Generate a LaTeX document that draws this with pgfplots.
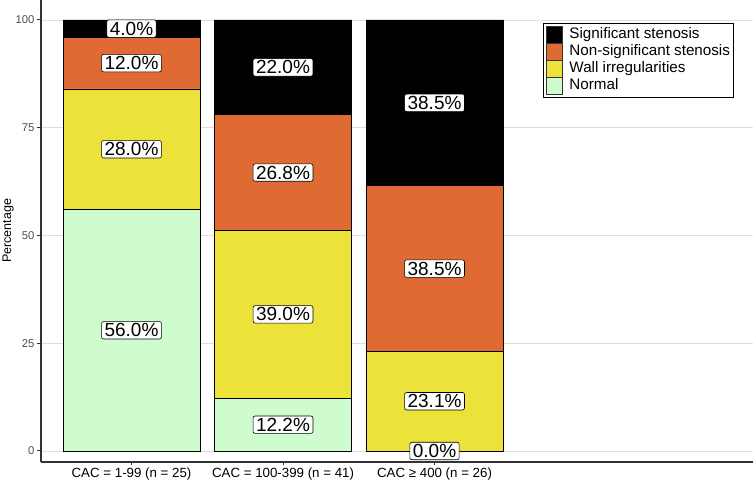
\documentclass[border=0pt]{standalone}
\usepackage{pgfplots}
\pgfplotsset{compat=1.18}
\usepackage{fontspec}
\setmainfont{Liberation Sans}
\definecolor{sigc}{RGB}{0,0,0}
\definecolor{nonsig}{RGB}{224,106,52}
\definecolor{wallc}{RGB}{237,226,58}
\definecolor{normc}{RGB}{207,252,207}
\definecolor{axgray}{RGB}{51,51,51}
\definecolor{tickgray}{RGB}{77,77,77}
\definecolor{gridc}{RGB}{222,222,222}
\pgfplotsset{
  common/.style={at={(0pt,0pt)}, anchor=south west, scale only axis,
    width=712pt, height=462pt,
    xmin=0.4026, xmax=5.102, ymin=-2.552, ymax=104.64},
}
\begin{document}
\begin{tikzpicture}
\path[use as bounding box] (-41pt,-20pt) rectangle (712pt,462pt);
\begin{axis}[common,
  ybar stacked, bar width=0.904,
  axis lines*=left,
  axis line style={axgray, line width=1.1pt},
  xtick={1,2,3},
  xticklabels={CAC = 1-99 (n = 25), CAC = 100-399 (n = 41), CAC ≥ 400 (n = 26)},
  ytick={0,25,50,75,100},
  ymajorgrids, xmajorgrids=false,
  major grid style={gridc, line width=0.7pt},
  tick align=outside, major tick length=3.5pt,
  tick style={axgray, line width=1pt},
  /pgf/number format/assume math mode=true,
  yticklabel style={font=\fontsize{11.3}{12}\selectfont, text=tickgray, xshift=0.5pt},
  xticklabel style={font=\fontsize{13.3}{14}\selectfont, text=black, yshift=1.5pt},
  ylabel={Percentage},
  every axis y label/.style={at={(axis description cs:-0.0463,0.5)}, rotate=90, anchor=center,
    font=\fontsize{12.5}{14}\selectfont},
  reverse legend,
  legend style={at={(0.7046,0.9509)}, anchor=north west, draw=black, line width=0.8pt,
    font=\fontsize{15.2}{16.7}\selectfont, inner xsep=3pt, inner ysep=3pt,
    row sep=0pt, cells={anchor=west}, nodes={inner sep=0pt, text height=12pt, text depth=4.5pt}},
  legend image code/.code={\draw[#1, draw=axgray, line width=0.4pt] (0pt,-8.3pt) rectangle (16pt,8.3pt);},
]
\addplot[fill=normc, draw=black, line width=0.6pt] coordinates {(1,56.0) (2,12.2) (3,0.0)};
\addlegendentry{\hspace{7pt}Normal}
\addplot[fill=wallc, draw=black, line width=0.6pt] coordinates {(1,28.0) (2,39.02) (3,23.08)};
\addlegendentry{\hspace{7pt}Wall irregularities}
\addplot[fill=nonsig, draw=black, line width=0.6pt] coordinates {(1,12.0) (2,26.83) (3,38.46)};
\addlegendentry{\hspace{7pt}Non-significant stenosis}
\addplot[fill=sigc, draw=black, line width=0.6pt] coordinates {(1,4.0) (2,21.95) (3,38.46)};
\addlegendentry{\hspace{7pt}Significant stenosis}
\end{axis}
\begin{axis}[common, hide axis, clip=false]
\addplot[only marks, mark=none, point meta=explicit symbolic,
  nodes near coords={\pgfplotspointmeta\%}, nodes near coords align=center,
  every node near coord/.style={draw=black, fill=white, rounded corners=2pt,
    line width=0.6pt, font=\fontsize{19}{20}\selectfont, inner xsep=3pt, inner ysep=2pt, anchor=center}]
table[meta=lab] {
x y lab
1 28 56.0
1 70 28.0
1 90 12.0
1 98 4.0
2 6.1 12.2
2 31.7 39.0
2 64.6 26.8
2 89.0 22.0
3 0 0.0
3 11.54 23.1
3 42.31 38.5
3 80.77 38.5
};
\end{axis}
\end{tikzpicture}
\end{document}
